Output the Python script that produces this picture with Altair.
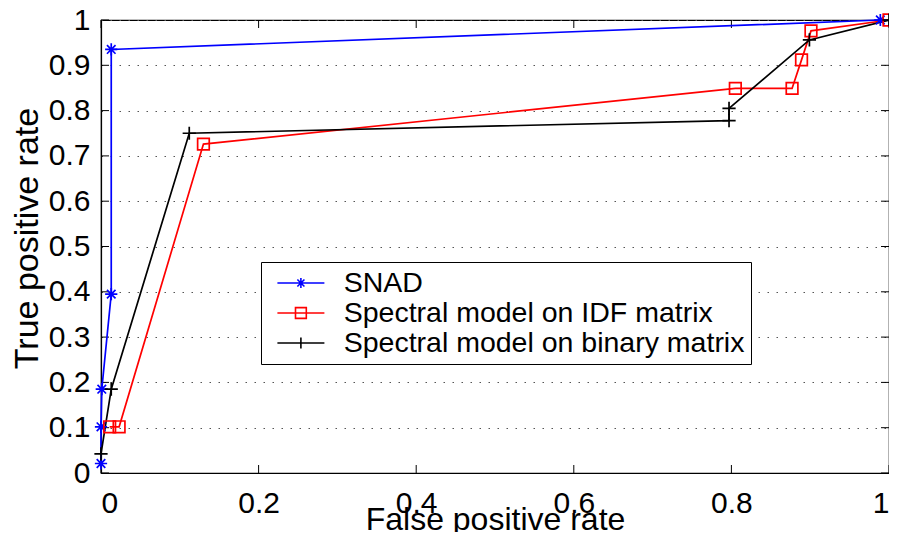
import altair as alt
import pandas as pd

# ---------------- data ----------------
series_names = ["SNAD", "Spectral model on IDF matrix", "Spectral model on binary matrix"]
series_colors = ["#0000FF", "#FF0000", "#000000"]

snad_x = [0.0, 0.0, 0.001, 0.013, 0.013, 0.989]
snad_y = [0.021, 0.102, 0.185, 0.395, 0.935, 1.0]

idf_x = [0.011, 0.023, 0.130, 0.805, 0.877, 0.889, 0.901, 1.0]
idf_y = [0.102, 0.102, 0.726, 0.849, 0.849, 0.912, 0.976, 1.0]

bin_x = [0.0, 0.013, 0.112, 0.797, 0.797, 0.899, 1.0]
bin_y = [0.042, 0.185, 0.750, 0.778, 0.805, 0.956, 1.0]

x_ticks = [0, 0.2, 0.4, 0.6, 0.8, 1.0]
y_ticks = [0, 0.1, 0.2, 0.3, 0.4, 0.5, 0.6, 0.7, 0.8, 0.9, 1.0]

# ---------------- tables ----------------
rows = []
for name, xs_, ys_ in zip(series_names, [snad_x, idf_x, bin_x], [snad_y, idf_y, bin_y]):
    for i, (a, b) in enumerate(zip(xs_, ys_)):
        rows.append({"series": name, "x": a, "y": b, "idx": i})
df = pd.DataFrame(rows)
xt = pd.DataFrame({"x": x_ticks})
yt = pd.DataFrame({"y": y_ticks})

W, H = 788, 453
FONT = "Liberation Sans"
TL = 8  # inward tick length

xs = alt.Scale(domain=[0, 1], nice=False, zero=False)
ys = alt.Scale(domain=[0, 1], nice=False, zero=False)
color_scale = alt.Scale(domain=series_names, range=series_colors)

# custom marker paths (plot)
plot_paths = [
    "M-1,0H1M0,-1V1M-0.7,-0.7L0.7,0.7M-0.7,0.7L0.7,-0.7",
    "M-1,-1H1V1H-1Z",
    "M-1,0H1M0,-1V1",
]
plot_sizes = [150, 135, 175]
# custom legend symbols: line with marker
leg_paths = [
    "M-0.6,0H1.4M0.4,-0.21V0.21M0.25,-0.15L0.55,0.15M0.25,0.15L0.55,-0.15",
    "M-0.6,0H1.4M0.17,-0.23H0.63V0.23H0.17Z",
    "M-0.6,0H1.4M0.4,-0.23V0.23",
]

x_axis = alt.Axis(
    title="False positive rate",
    values=x_ticks,
    format="~g",
    ticks=False,
    tickSize=0,
    grid=False,
    labelFont=FONT,
    labelFontSize=30,
    labelColor="black",
    labelPadding=15,
    labelBaseline="top",
    titleFont=FONT,
    titleFontSize=32,
    titleFontWeight="normal",
    titleColor="black",
    titleBaseline="alphabetic",
    titleY=56,
    domainColor="black",
    domainWidth=1.2,
)
y_axis = alt.Axis(
    title="True positive rate",
    values=y_ticks,
    format="~g",
    ticks=False,
    tickSize=0,
    grid=True,
    gridColor="#555555",
    gridDash=[1.5, 7.5],
    gridWidth=1,
    labelFont=FONT,
    labelFontSize=30,
    labelColor="black",
    labelPadding=11,
    titleFont=FONT,
    titleFontSize=34,
    titleFontWeight="normal",
    titleColor="black",
    titleBaseline="alphabetic",
    titleAngle=270,
    titleX=-64,
    titleY=218,
    domainColor="black",
    domainWidth=1.2,
)

legend = alt.Legend(
    title=None,
    orient="none",
    legendX=160,
    legendY=242,
    padding=6,
    strokeColor="black",
    fillColor="white",
    cornerRadius=0,
    labelFont=FONT,
    labelFontSize=28.5,
    labelColor="black",
    labelLimit=0,
    labelOffset=27.7,
    symbolSize=2209,
    symbolStrokeWidth=1.6,
    symbolFillColor="transparent",
    clipHeight=30,
    rowPadding=0,
)

base = alt.Chart(df)

line_layers = []
point_layers = []
for k, (name, col, path, sz) in enumerate(zip(series_names, series_colors, plot_paths, plot_sizes)):
    sub = base.transform_filter(alt.datum.series == name)
    if k == 0:
        enc_x = alt.X("x:Q", scale=xs, axis=x_axis)
        enc_y = alt.Y("y:Q", scale=ys, axis=y_axis)
    else:
        enc_x = alt.X("x:Q", scale=xs)
        enc_y = alt.Y("y:Q", scale=ys)
    line_layers.append(
        sub.mark_line(strokeWidth=1.7, color=col).encode(
            x=enc_x, y=enc_y, order=alt.Order("idx:Q")
        )
    )
    point_layers.append(
        sub.mark_point(filled=False, shape=path, size=sz, color=col, strokeWidth=1.7, opacity=1)
        .encode(x=alt.X("x:Q", scale=xs), y=alt.Y("y:Q", scale=ys))
    )

# legend-only layer (draws no marks: all rows filtered out)
legend_layer = (
    base.transform_filter("false")
    .mark_point(filled=False, strokeWidth=1.6, opacity=1)
    .encode(
        x=alt.X("x:Q", scale=xs),
        y=alt.Y("y:Q", scale=ys),
        color=alt.Color("series:N", scale=color_scale, legend=legend),
        shape=alt.Shape(
            "series:N",
            scale=alt.Scale(domain=series_names, range=leg_paths),
            legend=legend,
        ),
    )
)

tick_bottom = alt.Chart(xt).mark_rule(color="black", strokeWidth=1).encode(
    x=alt.X("x:Q", scale=xs), y=alt.value(H), y2=alt.value(H - TL)
)
tick_top = alt.Chart(xt).mark_rule(color="black", strokeWidth=1).encode(
    x=alt.X("x:Q", scale=xs), y=alt.value(0), y2=alt.value(TL)
)
tick_left = alt.Chart(yt).mark_rule(color="black", strokeWidth=1).encode(
    y=alt.Y("y:Q", scale=ys), x=alt.value(0), x2=alt.value(TL)
)
tick_right = alt.Chart(yt).mark_rule(color="black", strokeWidth=1).encode(
    y=alt.Y("y:Q", scale=ys), x=alt.value(W), x2=alt.value(W - TL)
)

chart = (
    alt.layer(tick_bottom, tick_top, tick_left, tick_right,
              *line_layers, *point_layers, legend_layer)
    .properties(
        width=W,
        height=H,
        autosize=alt.AutoSizeParams(type="none"),
        padding={"left": 93, "top": 12, "right": 0, "bottom": 59},
        background="white",
    )
    .configure_view(stroke="black", strokeWidth=1.2)
)

chart.save("out.html", embed_options={"renderer": "svg", "actions": False})
